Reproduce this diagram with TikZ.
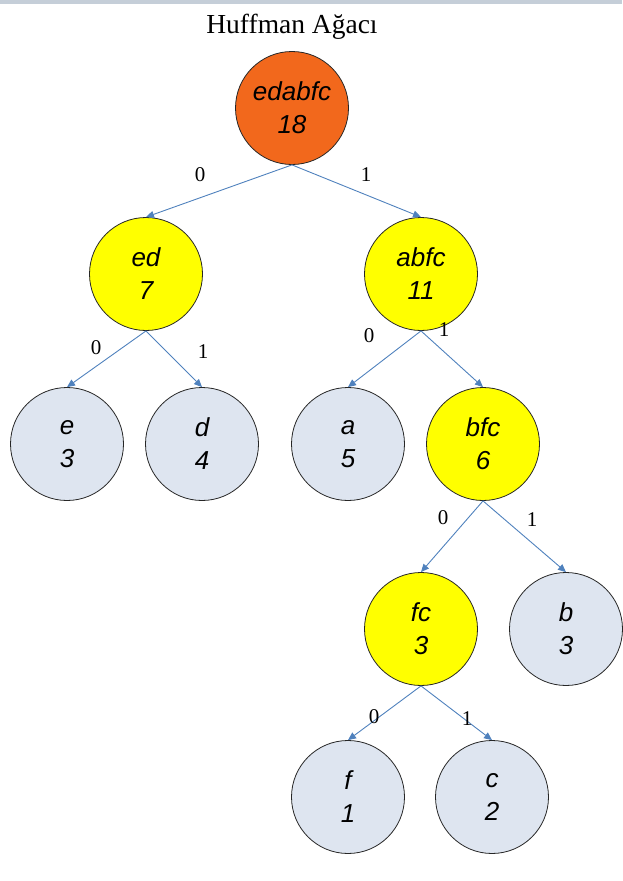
\documentclass[tikz,border=0pt]{standalone}
\usepackage{fontspec}
\setmainfont{Liberation Serif}
\newfontfamily\nodefont{Liberation Sans}
\usetikzlibrary{arrows.meta}
\definecolor{rootfill}{RGB}{242,104,28}
\definecolor{midfill}{RGB}{255,255,0}
\definecolor{leaffill}{RGB}{222,229,240}
\definecolor{edgeblue}{RGB}{79,129,189}
\definecolor{topband}{RGB}{197,206,216}
\tikzset{
  tnode/.style={circle, draw=black!85, line width=0.8pt, minimum size=113pt, inner sep=0pt,
    align=center, font=\nodefont\itshape\fontsize{26}{33}\selectfont},
  rootnode/.style={tnode, fill=rootfill},
  midnode/.style={tnode, fill=midfill},
  leafnode/.style={tnode, fill=leaffill},
  arr/.style={draw=edgeblue, line width=0.9pt, -{Triangle[length=8pt,width=7pt]}},
  lbl/.style={font=\fontsize{21}{24}\selectfont, inner sep=0pt}
}
\begin{document}
\begin{tikzpicture}[x=1pt,y=-1pt]
\useasboundingbox (0,0) rectangle (622,881);
\fill[topband] (0,0) rectangle (622,4);
\node[font=\fontsize{27.5}{32}\selectfont] (title) at (292,27) {Huffman Ağacı};

\node[rootnode] (root) at (292,108) {edabfc\\18};
\node[midnode] (ed) at (146,274) {ed\\7};
\node[midnode] (abfc) at (421,274) {abfc\\11};
\node[leafnode] (e) at (67,444) {e\\3};
\node[leafnode] (d) at (202,444) {d\\4};
\node[leafnode] (a) at (348,444) {a\\5};
\node[midnode] (bfc) at (483,444) {bfc\\6};
\node[midnode] (fc) at (421,629) {fc\\3};
\node[leafnode] (b) at (566,629) {b\\3};
\node[leafnode] (f) at (348,797) {f\\1};
\node[leafnode] (c) at (492,797) {c\\2};

\draw[arr] (root.south) -- (ed.north);
\draw[arr] (root.south) -- (abfc.north);
\draw[arr] (ed.south) -- (e.north);
\draw[arr] (ed.south) -- (d.north);
\draw[arr] (abfc.south) -- (a.north);
\draw[arr] (abfc.south) -- (bfc.north);
\draw[arr] (bfc.south) -- (fc.north);
\draw[arr] (bfc.south) -- (b.north);
\draw[arr] (fc.south) -- (f.north);
\draw[arr] (fc.south) -- (c.north);

\node[lbl] (l1) at (200,175) {0};
\node[lbl] (l2) at (366,175) {1};
\node[lbl] (l3) at (96,348) {0};
\node[lbl] (l4) at (203,352) {1};
\node[lbl] (l5) at (369,336) {0};
\node[lbl] (l6) at (444,330) {1};
\node[lbl] (l7) at (443,518) {0};
\node[lbl] (l8) at (532,520) {1};
\node[lbl] (l9) at (374,717) {0};
\node[lbl] (l10) at (467,719) {1};
\end{tikzpicture}
\end{document}
